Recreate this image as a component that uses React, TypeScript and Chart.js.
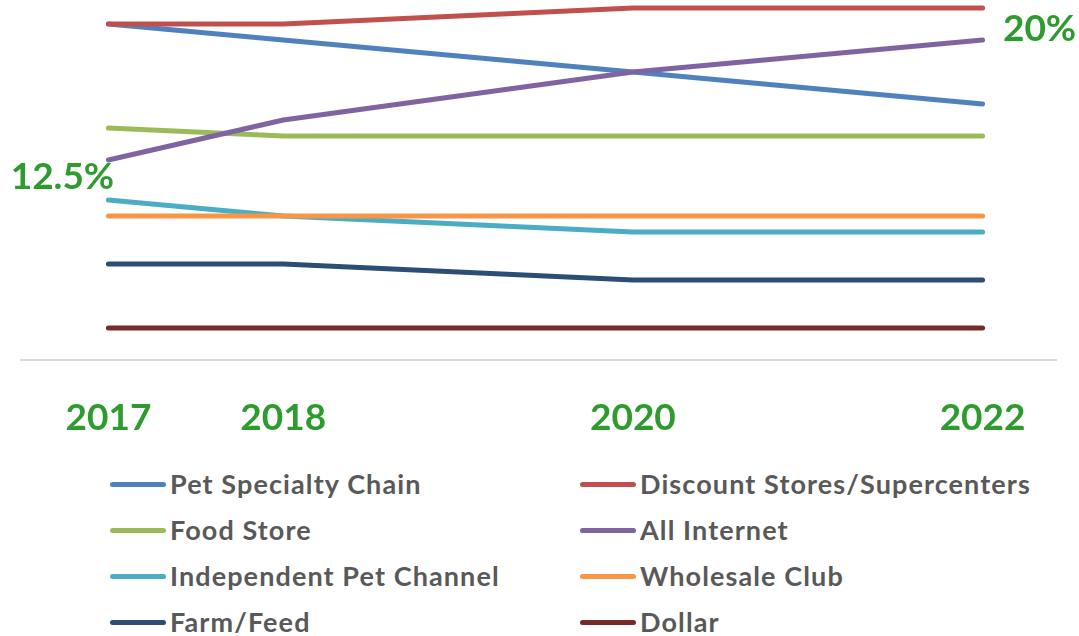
import React, { useEffect, useRef } from "react";
import { Chart, registerables } from "chart.js";

Chart.register(...registerables);

const years = [2017, 2018, 2020, 2022];
const tickYears = [2017, 2018, 2020, 2022];
const seriesNames = [
  "Pet Specialty Chain",
  "Discount Stores/Supercenters",
  "Food Store",
  "All Internet",
  "Independent Pet Channel",
  "Wholesale Club",
  "Farm/Feed",
  "Dollar",
];
const petSpecialty = [21, 20, 18, 16];
const discountStores = [21, 21, 22, 22];
const foodStore = [14.5, 14, 14, 14];
const allInternet = [12.5, 15, 18, 20];
const independentPet = [10, 9, 8, 8];
const wholesaleClub = [9, 9, 9, 9];
const farmFeed = [6, 6, 5, 5];
const dollar = [2, 2, 2, 2];
const seriesValues = [
  petSpecialty,
  discountStores,
  foodStore,
  allInternet,
  independentPet,
  wholesaleClub,
  farmFeed,
  dollar,
];
const seriesColors = [
  "#4F81BD",
  "#C0504D",
  "#9BBB59",
  "#8064A2",
  "#4BACC6",
  "#F79646",
  "#2C4D75",
  "#772C2A",
];
const highlightIndex = 3;

const GREEN = "#2E9B2E";
const FONT = "Lato, 'Open Sans', sans-serif";

const endLabelsPlugin = {
  id: "endLabels",
  afterDatasetsDraw(chart: any) {
    const meta = chart.getDatasetMeta(highlightIndex);
    const data = seriesValues[highlightIndex];
    const ctx = chart.ctx;
    ctx.save();
    ctx.font = `bold 37px ${FONT}`;
    ctx.fillStyle = GREEN;
    ctx.textAlign = "center";
    ctx.textBaseline = "middle";
    const first = meta.data[0];
    const last = meta.data[meta.data.length - 1];
    ctx.fillText(`${data[0]}%`, first.x - 46, first.y + 17);
    ctx.fillText(`${data[data.length - 1]}%`, last.x + 57, last.y - 11);
    ctx.restore();
  },
};

export default function App() {
  const canvasRef = useRef<HTMLCanvasElement | null>(null);

  useEffect(() => {
    if (!canvasRef.current) return;
    const datasets = seriesNames.map((name, i) => ({
      label: name,
      data: years.map((y, j) => ({ x: y, y: seriesValues[i][j] })),
      borderColor: seriesColors[i],
      backgroundColor: seriesColors[i],
      borderWidth: 5,
      borderCapStyle: "round" as const,
      borderJoinStyle: "round" as const,
      pointRadius: 0,
      tension: 0,
      fill: false,
      clip: false as any,
      order: seriesNames.length - i,
    }));
    const chart = new Chart(canvasRef.current, {
      type: "line",
      data: { datasets },
      options: {
        animation: false,
        responsive: false,
        events: [],
        layout: { padding: { left: 21, right: 23, top: 0, bottom: 0 } },
        plugins: {
          legend: { display: false },
          tooltip: { enabled: false },
        },
        scales: {
          x: {
            type: "linear",
            min: 2016.5,
            max: 2022.42,
            afterBuildTicks: (scale: any) => {
              scale.ticks = tickYears.map((v) => ({ value: v }));
            },
            afterFit: (scale: any) => {
              scale.height = 90;
            },
            grid: { display: false, drawTicks: false },
            border: { display: true, color: "#D9D9D9", width: 2 },
            ticks: {
              autoSkip: false,
              maxRotation: 0,
              padding: 36,
              color: GREEN,
              font: { family: FONT, size: 37, weight: "bold" },
              callback: (v: any) => String(v),
            },
          },
          y: {
            display: false,
            min: 0,
            max: 22.5,
          },
        },
      },
      plugins: [endLabelsPlugin],
    });
    return () => chart.destroy();
  }, []);

  return (
    <div
      style={{
        position: "fixed",
        left: 0,
        top: 0,
        width: 1079,
        height: 636,
        background: "#fff",
        overflow: "hidden",
      }}
    >
      <canvas
        ref={canvasRef}
        width={1079}
        height={450}
        style={{ display: "block", width: 1079, height: 450 }}
      />
      <div
        style={{
          position: "absolute",
          left: 110,
          top: 461,
          display: "grid",
          gridTemplateColumns: "470px 470px",
          gridAutoRows: "46px",
          fontFamily: FONT,
          fontWeight: "bold",
          fontSize: 27,
          letterSpacing: "1.1px",
          color: "#595959",
        }}
      >
        {seriesNames.map((name, i) => (
          <div
            key={name}
            style={{ display: "flex", alignItems: "center", lineHeight: "46px", whiteSpace: "nowrap" }}
          >
            <span
              style={{
                display: "inline-block",
                width: 56,
                height: 5,
                borderRadius: 3,
                background: seriesColors[i],
                marginRight: 4,
              }}
            />
            <span>{name}</span>
          </div>
        ))}
      </div>
    </div>
  );
}
